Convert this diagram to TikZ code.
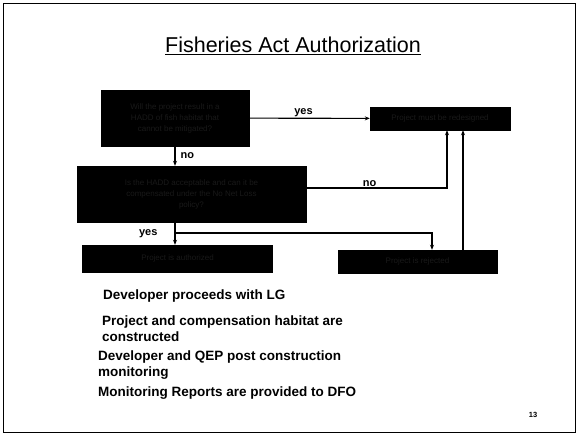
\documentclass[tikz,border=0pt]{standalone}
\usepackage{fontspec}
\setmainfont{Liberation Sans}
\usetikzlibrary{positioning,arrows.meta}
\tikzset{
  blackbox/.style={draw=black, fill=black, text=black!90, inner sep=2pt, align=center,
    font=\fontsize{8}{11}\selectfont},
  flow/.style={line width=1.1pt, -{Stealth[length=5pt,width=4pt]}},
  answer/.style={font=\bfseries\fontsize{11}{12}\selectfont, inner sep=1pt},
  point/.style={font=\bfseries\fontsize{13.5}{16.5}\selectfont, anchor=west, inner sep=0pt, align=left},
}

\begin{document}
\begin{tikzpicture}[x=1pt,y=-1pt]
\useasboundingbox (0,0) rectangle (580,437);
%slide
\draw[line width=0.8pt] (3,3) rectangle (575,432);
\node[font=\fontsize{21.5}{24}\selectfont] (title) at (293,46) {\underline{Fisheries Act Authorization}};
%boxes
\node[blackbox, minimum width=148pt, minimum height=56pt] (hadd) at (175,118)
  {Will the project result in a\\ HADD of fish habitat that\\ cannot be mitigated?};
\node[blackbox, minimum width=140pt, minimum height=23pt] (redesign) at (440,118.5) {Project must be redesigned};
\node[blackbox, minimum width=229pt, minimum height=56pt] (accept) at (191.5,194)
  {Is the HADD acceptable and can it be\\ compensated under the No Net Loss\\ policy?};
\node[blackbox, minimum width=190pt, minimum height=27pt] (authorized) at (177.5,258.5) {Project is authorized};
\node[blackbox, minimum width=159pt, minimum height=23pt] (rejected) at (417.5,261.5) {Project is rejected};
%connectors
\draw[flow] (hadd) -- node[answer, above, pos=0.45] {yes} (redesign);
\draw[flow] (hadd.south) -- node[answer, right=4pt] {no} (hadd.south |- accept.north);
\draw[flow] (hadd.south |- accept.south) -- node[answer, left=16pt] {yes} (hadd.south |- authorized.north);
\coordinate (fork) at (175,233);
\coordinate (intoR) at (432,233);
\draw[flow] (fork) -- (intoR) -- (intoR |- rejected.north);
\coordinate (noturn) at (447,188);
\draw[flow] (accept.east |- noturn) -- node[answer, above, pos=0.45] {no} (noturn) -- (noturn |- redesign.south);
\coordinate (back) at (463,0);
\draw[flow] (back |- rejected.north) -- (back |- redesign.south);
%steps after authorization
\node[point] (proceed) at (103,296) {Developer proceeds with LG};
\node[point] (build) at (102,328.5) {Project and compensation habitat are\\constructed};
\node[point] (monitor) at (98,365) {Developer and QEP post construction\\monitoring};
\node[point] (report) at (98,393) {Monitoring Reports are provided to DFO};
\node[font=\bfseries\fontsize{7.5}{9}\selectfont] (page) at (533,415) {13};
\end{tikzpicture}
\end{document}
